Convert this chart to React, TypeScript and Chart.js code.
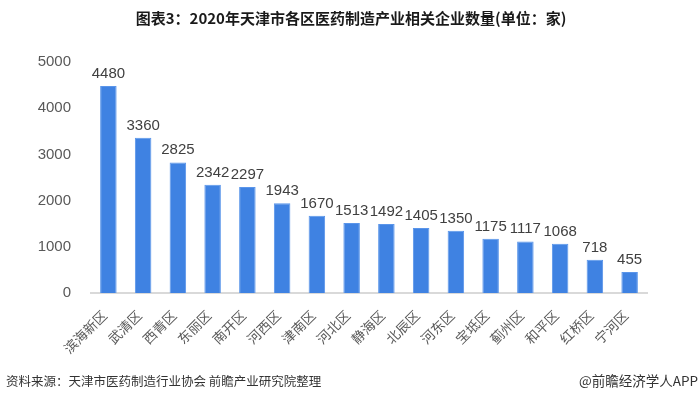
import React, { useEffect, useRef } from "react";
import { Chart, registerables } from "chart.js";

Chart.register(...registerables);

const categories = ["滨海新区", "武清区", "西青区", "东丽区", "南开区", "河西区", "津南区", "河北区", "静海区", "北辰区", "河东区", "宝坻区", "蓟州区", "和平区", "红桥区", "宁河区"];
const values = [4480, 3360, 2825, 2342, 2297, 1943, 1670, 1513, 1492, 1405, 1350, 1175, 1117, 1068, 718, 455];
const yTicks = [0, 1000, 2000, 3000, 4000, 5000];
const titleText = "图表3：2020年天津市各区医药制造产业相关企业数量(单位：家)";
const sourceText = "资料来源：天津市医药制造行业协会 前瞻产业研究院整理";
const brandText = "@前瞻经济学人APP";

const decorPlugin = {
  id: "decor",
  afterDatasetsDraw(chart: any) {
    const ctx = chart.ctx;
    const meta = chart.getDatasetMeta(0);
    ctx.save();
    ctx.fillStyle = "#404040";
    ctx.font = "15px 'Liberation Sans', Arial, sans-serif";
    ctx.textAlign = "center";
    ctx.textBaseline = "alphabetic";
    meta.data.forEach((bar: any, i: number) => {
      ctx.fillText(String(values[i]), bar.x, bar.y - 8);
    });
    ctx.restore();
  },
  afterDraw(chart: any) {
    const ctx = chart.ctx;
    ctx.save();
    ctx.fillStyle = "#1a1a1a";
    ctx.font = "bold 15px 'Noto Sans CJK SC', sans-serif";
    ctx.textAlign = "center";
    ctx.textBaseline = "middle";
    ctx.fillText(titleText, 351, 18);
    ctx.fillStyle = "#333333";
    ctx.font = "12.5px 'Noto Sans CJK SC', sans-serif";
    ctx.textAlign = "left";
    ctx.fillText(sourceText, 6, 381);
    ctx.textAlign = "right";
    ctx.font = "13.5px 'Noto Sans CJK SC', sans-serif";
    ctx.fillText(brandText, 698, 381);
    ctx.restore();
  },
};

export default function App() {
  const ref = useRef<HTMLCanvasElement>(null);
  useEffect(() => {
    document.body.style.margin = "0";
    const chart = new Chart(ref.current!, {
      type: "bar",
      data: {
        labels: categories,
        datasets: [
          {
            data: values,
            backgroundColor: "#3F82E2",
            borderColor: "#5A95EA",
            borderWidth: 1,
            barPercentage: 0.475,
            categoryPercentage: 1,
          },
        ],
      },
      options: {
        animation: false,
        responsive: false,
        layout: { padding: { top: 62, right: 53, bottom: 35, left: 0 } },
        plugins: { legend: { display: false }, tooltip: { enabled: false }, title: { display: false } },
        scales: {
          x: {
            grid: { display: false, drawTicks: false },
            border: { display: true, color: "#d9d9d9", width: 2 },
            ticks: {
              autoSkip: false,
              minRotation: 45,
              maxRotation: 45,
              padding: 14,
              labelOffset: -4,
              color: "#595959",
              font: { size: 13.5, family: "'Noto Sans CJK SC', sans-serif" },
            },
            afterFit(scale: any) {
              scale.height = 70;
              scale.paddingLeft = 0;
              scale.paddingRight = 0;
            },
          },
          y: {
            min: 0,
            max: 5000,
            grid: { display: false, drawTicks: false },
            border: { display: false },
            afterBuildTicks(scale: any) {
              scale.ticks = yTicks.map((v) => ({ value: v }));
            },
            ticks: {
              padding: 20,
              color: "#595959",
              font: { size: 15, family: "'Liberation Sans', Arial, sans-serif" },
              callback: (v: any) => String(v),
            },
            afterFit(scale: any) {
              scale.width = 91;
              scale.paddingTop = 0;
              scale.paddingBottom = 0;
            },
          },
        },
      },
      plugins: [decorPlugin],
    });
    return () => chart.destroy();
  }, []);
  return (
    <div style={{ width: 700, height: 398, background: "#fff" }}>
      <canvas ref={ref} width={700} height={398} style={{ display: "block" }} />
    </div>
  );
}
